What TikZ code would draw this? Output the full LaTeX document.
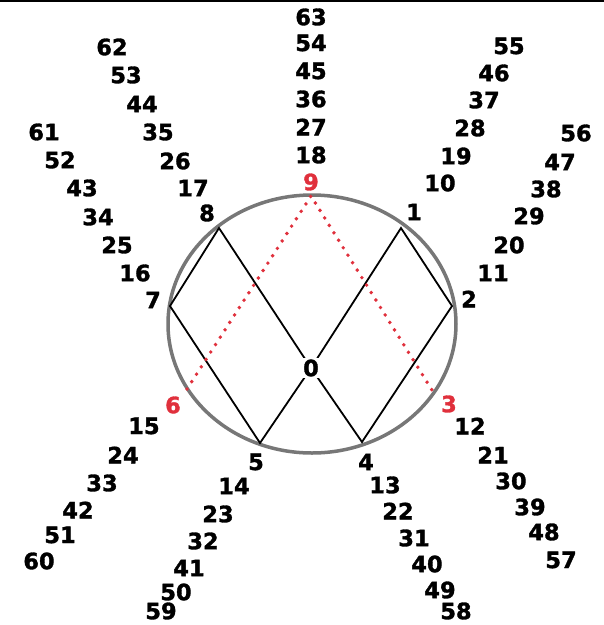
\documentclass[tikz,border=0pt]{standalone}
\usepackage{fontspec}
\setmainfont{DejaVu Sans}[BoldFeatures={FakeBold=1.4}]
\usepackage{tikz}
\usetikzlibrary{arrows.meta}

\definecolor{ninered}{HTML}{E0303C}
\definecolor{ringgray}{HTML}{777777}

\tikzset{
  numlbl/.style={font=\bfseries\fontsize{22.5}{24}\selectfont, inner sep=0pt},
  redlbl/.style={numlbl, text=ninered},
  chord/.style={black, line width=1.8pt},
  redpath/.style={ninered, line width=3.9pt, line cap=round, dash pattern=on 0pt off 8.8pt}
}

\begin{document}
\begin{tikzpicture}[x=1pt, y=-1pt]
  % Fix the frame to the size of the reference
  \useasboundingbox (0,0) rectangle (604,625);
  \draw[black, line width=1.5pt] (0,0.75) -- (604,0.75);

  % Points on the ring
  \coordinate (p9) at (311,196);
  \coordinate (p8) at (219,228);
  \coordinate (p1) at (401,228);
  \coordinate (p7) at (170,306);
  \coordinate (p2) at (452,306);
  \coordinate (p6) at (187,389);
  \coordinate (p3) at (432,390);
  \coordinate (p5) at (260,443);
  \coordinate (p4) at (362,442);
  \coordinate (p0) at (311,368);

  % The ring
  \draw[ringgray, line width=3.5pt] (312,324) ellipse (144 and 129);

  % Black chords
  \draw[chord, line join=miter] (p0) -- (p8) -- (p7) -- (p5) -- (p0) -- (p4) -- (p2) -- (p1) -- cycle;

  % Red dotted path through 9
  \draw[redpath] (p6) -- (p9) -- (p3);

  % Labels of the ring points
  \node[redlbl] (l9) at (311,182) {9};
  \node[redlbl] (l6) at (173,405) {6};
  \node[redlbl] (l3) at (449,404) {3};
  \node[numlbl, fill=white, inner sep=1.2pt] (l0) at (p0) {0};
  \node[numlbl] (l8) at (207,213) {8};
  \node[numlbl] (l1) at (414,212) {1};
  \node[numlbl] (l7) at (153,300) {7};
  \node[numlbl] (l2) at (469,299) {2};
  \node[numlbl] (l5) at (256,462) {5};
  \node[numlbl] (l4) at (366,462) {4};

  % The numbers running outward along the rays
  \foreach \n/\px/\py in {
      18/311/155, 27/311/127, 36/311/99, 45/311/71, 54/311/43, 63/311/17,
      17/193/188, 26/175/161, 35/158/132, 44/142/104, 53/126/75, 62/112/47,
      16/135/273, 25/117/245, 34/98/217, 43/82/188, 52/60/160, 61/44/132,
      10/440/183, 19/456/156, 28/470/128, 37/484/100, 46/494/73, 55/509/46,
      11/493/273, 20/509/245, 29/529/216, 38/546/189, 47/560/162, 56/576/133,
      12/470/426, 21/493/455, 30/511/481, 39/530/507, 48/544/532, 57/561/560,
      13/385/485, 22/398/511, 31/414/538, 40/427/564, 49/440/590, 58/456/611,
      14/234/486, 23/218/514, 32/203/541, 41/189/568, 50/176/592, 59/161/611,
      15/144/426, 24/123/455, 33/102/483, 42/78/510, 51/60/535, 60/39/561}
    \node[numlbl] (n\n) at (\px,\py) {\n};
\end{tikzpicture}
\end{document}
